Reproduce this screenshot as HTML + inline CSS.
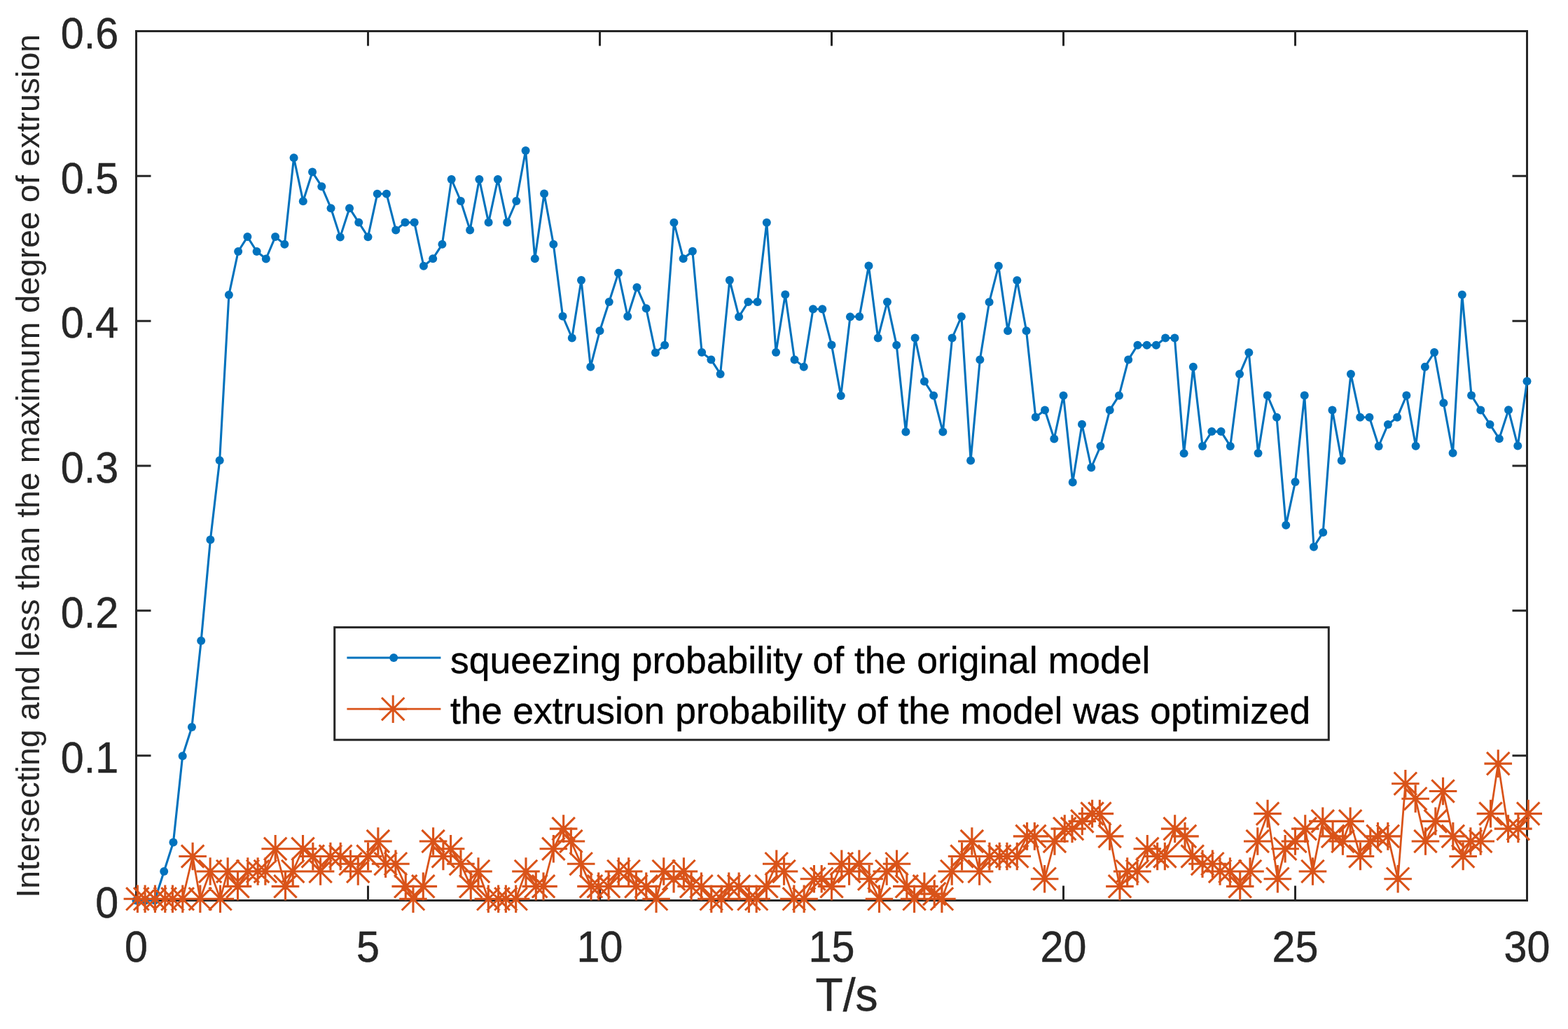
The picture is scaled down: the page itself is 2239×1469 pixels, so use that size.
<!DOCTYPE html>
<html><head><meta charset="utf-8"><title>Plot</title>
<style>html,body{margin:0;padding:0;background:#fff;overflow:hidden}svg{display:block}</style>
</head><body>
<svg width="2239" height="1469" viewBox="0 0 2239 1469">
<rect x="0" y="0" width="2239" height="1469" fill="#fff"/>
<g stroke="#262626" stroke-width="3.0" fill="none">
<rect x="194.5" y="44.5" width="1986.0" height="1241.0"/>
<path d="M194.5 1285.5V1264.5M194.5 44.5V65.5M525.5 1285.5V1264.5M525.5 44.5V65.5M856.5 1285.5V1264.5M856.5 44.5V65.5M1187.5 1285.5V1264.5M1187.5 44.5V65.5M1518.5 1285.5V1264.5M1518.5 44.5V65.5M1849.5 1285.5V1264.5M1849.5 44.5V65.5M2180.5 1285.5V1264.5M2180.5 44.5V65.5M194.5 1285.5H215.5M2180.5 1285.5H2159.5M194.5 1078.67H215.5M2180.5 1078.67H2159.5M194.5 871.83H215.5M2180.5 871.83H2159.5M194.5 665H215.5M2180.5 665H2159.5M194.5 458.17H215.5M2180.5 458.17H2159.5M194.5 251.33H215.5M2180.5 251.33H2159.5M194.5 44.5H215.5M2180.5 44.5H2159.5"/>
</g>
<polyline points="194.5,1285.5 207.74,1285.5 220.98,1285.5 234.22,1244 247.46,1202.6 260.7,1079.2 273.94,1038 287.18,914.8 300.42,770.5 313.66,657.2 326.9,420.9 340.14,359 353.38,338.1 366.62,359 379.86,369.5 393.1,338.1 406.34,348.8 419.58,225.2 432.82,287.3 446.06,245.6 459.3,266.2 472.54,297.2 485.78,338.4 499.02,297.2 512.26,317.6 525.5,338.2 538.74,276.8 551.98,276.8 565.22,328.4 578.46,317.6 591.7,317.6 604.94,379.8 618.18,369.2 631.42,348.8 644.66,256 657.9,287 671.14,328.4 684.38,256 697.62,317.6 710.86,256 724.1,317.6 737.34,287 750.58,215 763.82,369.2 777.06,276.5 790.3,348.8 803.54,451.5 816.78,482.4 830.02,400.1 843.26,523.8 856.5,472.2 869.74,431.1 882.98,389.7 896.22,451.8 909.46,410.3 922.7,440.3 935.94,503.4 949.18,492.7 962.42,317.8 975.66,369.3 988.9,358.8 1002.14,503.1 1015.38,513.4 1028.62,533.9 1041.86,400 1055.1,452.2 1068.34,431.1 1081.58,431.1 1094.82,317.8 1108.06,503.1 1121.3,420.6 1134.54,513.4 1147.78,523.7 1161.02,441.2 1174.26,441.3 1187.5,492.6 1200.74,565 1213.98,452.2 1227.22,451.9 1240.46,379.6 1253.7,482.5 1266.94,431.1 1280.18,492.7 1293.42,616.6 1306.66,482.5 1319.9,544.4 1333.14,564.8 1346.38,616.6 1359.62,482.5 1372.86,451.9 1386.1,657.4 1399.34,513.4 1412.58,431.3 1425.82,379.8 1439.06,472.2 1452.3,400.2 1465.54,472.2 1478.78,595.5 1492.02,585.4 1505.26,626.4 1518.5,564.7 1531.74,688.6 1544.98,605.8 1558.22,667.6 1571.46,637 1584.7,585.4 1597.94,564.7 1611.18,513.6 1624.42,492.7 1637.66,492.7 1650.9,492.7 1664.14,482.5 1677.38,482.5 1690.62,647.2 1703.86,523.8 1717.1,637 1730.34,616.1 1743.58,616.1 1756.82,636.9 1770.06,534.1 1783.3,503.3 1796.54,647.1 1809.78,564.6 1823.02,595.7 1836.26,749.8 1849.5,688.1 1862.74,564.6 1875.98,780.8 1889.22,760.1 1902.46,585.4 1915.7,657.4 1928.94,534.1 1942.18,595.8 1955.42,595.8 1968.66,637 1981.9,605.9 1995.14,595.8 2008.38,564.6 2021.62,636.8 2034.86,523.7 2048.1,503 2061.34,575.3 2074.58,646.8 2087.82,420.8 2101.06,564.6 2114.3,585.5 2127.54,605.9 2140.78,626.3 2154.02,585.2 2167.26,636.6 2180.5,544.3" fill="none" stroke="#0072BD" stroke-width="3.1" stroke-linejoin="round"/>
<g fill="#0072BD">
<circle cx="194.5" cy="1285.5" r="6"/>
<circle cx="207.74" cy="1285.5" r="6"/>
<circle cx="220.98" cy="1285.5" r="6"/>
<circle cx="234.22" cy="1244" r="6"/>
<circle cx="247.46" cy="1202.6" r="6"/>
<circle cx="260.7" cy="1079.2" r="6"/>
<circle cx="273.94" cy="1038" r="6"/>
<circle cx="287.18" cy="914.8" r="6"/>
<circle cx="300.42" cy="770.5" r="6"/>
<circle cx="313.66" cy="657.2" r="6"/>
<circle cx="326.9" cy="420.9" r="6"/>
<circle cx="340.14" cy="359" r="6"/>
<circle cx="353.38" cy="338.1" r="6"/>
<circle cx="366.62" cy="359" r="6"/>
<circle cx="379.86" cy="369.5" r="6"/>
<circle cx="393.1" cy="338.1" r="6"/>
<circle cx="406.34" cy="348.8" r="6"/>
<circle cx="419.58" cy="225.2" r="6"/>
<circle cx="432.82" cy="287.3" r="6"/>
<circle cx="446.06" cy="245.6" r="6"/>
<circle cx="459.3" cy="266.2" r="6"/>
<circle cx="472.54" cy="297.2" r="6"/>
<circle cx="485.78" cy="338.4" r="6"/>
<circle cx="499.02" cy="297.2" r="6"/>
<circle cx="512.26" cy="317.6" r="6"/>
<circle cx="525.5" cy="338.2" r="6"/>
<circle cx="538.74" cy="276.8" r="6"/>
<circle cx="551.98" cy="276.8" r="6"/>
<circle cx="565.22" cy="328.4" r="6"/>
<circle cx="578.46" cy="317.6" r="6"/>
<circle cx="591.7" cy="317.6" r="6"/>
<circle cx="604.94" cy="379.8" r="6"/>
<circle cx="618.18" cy="369.2" r="6"/>
<circle cx="631.42" cy="348.8" r="6"/>
<circle cx="644.66" cy="256" r="6"/>
<circle cx="657.9" cy="287" r="6"/>
<circle cx="671.14" cy="328.4" r="6"/>
<circle cx="684.38" cy="256" r="6"/>
<circle cx="697.62" cy="317.6" r="6"/>
<circle cx="710.86" cy="256" r="6"/>
<circle cx="724.1" cy="317.6" r="6"/>
<circle cx="737.34" cy="287" r="6"/>
<circle cx="750.58" cy="215" r="6"/>
<circle cx="763.82" cy="369.2" r="6"/>
<circle cx="777.06" cy="276.5" r="6"/>
<circle cx="790.3" cy="348.8" r="6"/>
<circle cx="803.54" cy="451.5" r="6"/>
<circle cx="816.78" cy="482.4" r="6"/>
<circle cx="830.02" cy="400.1" r="6"/>
<circle cx="843.26" cy="523.8" r="6"/>
<circle cx="856.5" cy="472.2" r="6"/>
<circle cx="869.74" cy="431.1" r="6"/>
<circle cx="882.98" cy="389.7" r="6"/>
<circle cx="896.22" cy="451.8" r="6"/>
<circle cx="909.46" cy="410.3" r="6"/>
<circle cx="922.7" cy="440.3" r="6"/>
<circle cx="935.94" cy="503.4" r="6"/>
<circle cx="949.18" cy="492.7" r="6"/>
<circle cx="962.42" cy="317.8" r="6"/>
<circle cx="975.66" cy="369.3" r="6"/>
<circle cx="988.9" cy="358.8" r="6"/>
<circle cx="1002.14" cy="503.1" r="6"/>
<circle cx="1015.38" cy="513.4" r="6"/>
<circle cx="1028.62" cy="533.9" r="6"/>
<circle cx="1041.86" cy="400" r="6"/>
<circle cx="1055.1" cy="452.2" r="6"/>
<circle cx="1068.34" cy="431.1" r="6"/>
<circle cx="1081.58" cy="431.1" r="6"/>
<circle cx="1094.82" cy="317.8" r="6"/>
<circle cx="1108.06" cy="503.1" r="6"/>
<circle cx="1121.3" cy="420.6" r="6"/>
<circle cx="1134.54" cy="513.4" r="6"/>
<circle cx="1147.78" cy="523.7" r="6"/>
<circle cx="1161.02" cy="441.2" r="6"/>
<circle cx="1174.26" cy="441.3" r="6"/>
<circle cx="1187.5" cy="492.6" r="6"/>
<circle cx="1200.74" cy="565" r="6"/>
<circle cx="1213.98" cy="452.2" r="6"/>
<circle cx="1227.22" cy="451.9" r="6"/>
<circle cx="1240.46" cy="379.6" r="6"/>
<circle cx="1253.7" cy="482.5" r="6"/>
<circle cx="1266.94" cy="431.1" r="6"/>
<circle cx="1280.18" cy="492.7" r="6"/>
<circle cx="1293.42" cy="616.6" r="6"/>
<circle cx="1306.66" cy="482.5" r="6"/>
<circle cx="1319.9" cy="544.4" r="6"/>
<circle cx="1333.14" cy="564.8" r="6"/>
<circle cx="1346.38" cy="616.6" r="6"/>
<circle cx="1359.62" cy="482.5" r="6"/>
<circle cx="1372.86" cy="451.9" r="6"/>
<circle cx="1386.1" cy="657.4" r="6"/>
<circle cx="1399.34" cy="513.4" r="6"/>
<circle cx="1412.58" cy="431.3" r="6"/>
<circle cx="1425.82" cy="379.8" r="6"/>
<circle cx="1439.06" cy="472.2" r="6"/>
<circle cx="1452.3" cy="400.2" r="6"/>
<circle cx="1465.54" cy="472.2" r="6"/>
<circle cx="1478.78" cy="595.5" r="6"/>
<circle cx="1492.02" cy="585.4" r="6"/>
<circle cx="1505.26" cy="626.4" r="6"/>
<circle cx="1518.5" cy="564.7" r="6"/>
<circle cx="1531.74" cy="688.6" r="6"/>
<circle cx="1544.98" cy="605.8" r="6"/>
<circle cx="1558.22" cy="667.6" r="6"/>
<circle cx="1571.46" cy="637" r="6"/>
<circle cx="1584.7" cy="585.4" r="6"/>
<circle cx="1597.94" cy="564.7" r="6"/>
<circle cx="1611.18" cy="513.6" r="6"/>
<circle cx="1624.42" cy="492.7" r="6"/>
<circle cx="1637.66" cy="492.7" r="6"/>
<circle cx="1650.9" cy="492.7" r="6"/>
<circle cx="1664.14" cy="482.5" r="6"/>
<circle cx="1677.38" cy="482.5" r="6"/>
<circle cx="1690.62" cy="647.2" r="6"/>
<circle cx="1703.86" cy="523.8" r="6"/>
<circle cx="1717.1" cy="637" r="6"/>
<circle cx="1730.34" cy="616.1" r="6"/>
<circle cx="1743.58" cy="616.1" r="6"/>
<circle cx="1756.82" cy="636.9" r="6"/>
<circle cx="1770.06" cy="534.1" r="6"/>
<circle cx="1783.3" cy="503.3" r="6"/>
<circle cx="1796.54" cy="647.1" r="6"/>
<circle cx="1809.78" cy="564.6" r="6"/>
<circle cx="1823.02" cy="595.7" r="6"/>
<circle cx="1836.26" cy="749.8" r="6"/>
<circle cx="1849.5" cy="688.1" r="6"/>
<circle cx="1862.74" cy="564.6" r="6"/>
<circle cx="1875.98" cy="780.8" r="6"/>
<circle cx="1889.22" cy="760.1" r="6"/>
<circle cx="1902.46" cy="585.4" r="6"/>
<circle cx="1915.7" cy="657.4" r="6"/>
<circle cx="1928.94" cy="534.1" r="6"/>
<circle cx="1942.18" cy="595.8" r="6"/>
<circle cx="1955.42" cy="595.8" r="6"/>
<circle cx="1968.66" cy="637" r="6"/>
<circle cx="1981.9" cy="605.9" r="6"/>
<circle cx="1995.14" cy="595.8" r="6"/>
<circle cx="2008.38" cy="564.6" r="6"/>
<circle cx="2021.62" cy="636.8" r="6"/>
<circle cx="2034.86" cy="523.7" r="6"/>
<circle cx="2048.1" cy="503" r="6"/>
<circle cx="2061.34" cy="575.3" r="6"/>
<circle cx="2074.58" cy="646.8" r="6"/>
<circle cx="2087.82" cy="420.8" r="6"/>
<circle cx="2101.06" cy="564.6" r="6"/>
<circle cx="2114.3" cy="585.5" r="6"/>
<circle cx="2127.54" cy="605.9" r="6"/>
<circle cx="2140.78" cy="626.3" r="6"/>
<circle cx="2154.02" cy="585.2" r="6"/>
<circle cx="2167.26" cy="636.6" r="6"/>
<circle cx="2180.5" cy="544.3" r="6"/>
</g>
<polyline points="196.40,1283.30 207.13,1283.30 221.44,1283.30 235.75,1283.30 246.48,1283.30 260.80,1283.30 275.11,1222.48 285.84,1283.30 300.15,1243.95 314.47,1283.30 325.20,1243.95 339.51,1265.41 353.82,1243.95 368.14,1243.95 378.87,1243.95 393.18,1211.74 407.49,1265.41 418.23,1243.95 432.54,1211.74 446.85,1222.48 457.59,1243.95 471.90,1222.48 486.21,1222.48 500.52,1233.21 511.26,1243.95 525.57,1222.48 539.88,1201.01 550.61,1233.21 564.93,1233.21 579.24,1265.41 589.97,1283.30 604.28,1265.41 618.60,1201.01 632.91,1222.48 643.64,1211.74 657.95,1233.21 672.27,1265.41 683.00,1243.95 697.31,1283.30 711.62,1283.30 722.36,1283.30 736.67,1283.30 750.98,1243.95 765.29,1265.41 776.03,1265.41 790.34,1211.74 804.65,1183.12 815.39,1201.01 829.70,1233.21 844.01,1265.41 854.74,1265.41 869.06,1265.41 883.37,1243.95 897.68,1243.95 908.41,1265.41 922.73,1265.41 937.04,1283.30 947.77,1243.95 962.08,1254.68 976.40,1243.95 987.13,1265.41 1001.44,1265.41 1015.75,1283.30 1030.07,1283.30 1040.80,1265.41 1055.11,1265.41 1069.42,1283.30 1080.16,1283.30 1094.47,1265.41 1108.78,1233.21 1119.52,1243.95 1133.83,1283.30 1148.14,1283.30 1162.45,1254.68 1173.19,1254.68 1187.50,1265.41 1201.81,1233.21 1212.54,1243.95 1226.86,1233.21 1241.17,1254.68 1255.48,1283.30 1266.21,1243.95 1280.53,1233.21 1294.84,1265.41 1305.57,1283.30 1319.88,1265.41 1334.20,1276.15 1344.93,1283.30 1359.24,1243.95 1373.55,1222.48 1387.87,1201.01 1398.60,1243.95 1412.91,1222.48 1427.22,1222.48 1437.96,1222.48 1452.27,1222.48 1466.58,1193.85 1477.32,1193.85 1491.63,1254.68 1505.94,1201.01 1520.25,1183.12 1530.99,1183.12 1545.30,1172.39 1559.61,1161.65 1570.34,1161.65 1584.66,1193.85 1598.97,1265.41 1609.70,1243.95 1624.01,1243.95 1638.33,1211.74 1652.64,1222.48 1663.37,1222.48 1677.68,1183.12 1692.00,1193.85 1702.73,1222.48 1717.04,1233.21 1731.35,1233.21 1742.09,1243.95 1756.40,1243.95 1770.71,1265.41 1785.02,1243.95 1795.76,1201.01 1810.07,1161.65 1824.38,1254.68 1835.12,1211.74 1849.43,1201.01 1863.74,1183.12 1874.47,1243.95 1888.79,1172.39 1903.10,1193.85 1917.41,1201.01 1928.14,1172.39 1942.46,1222.48 1956.77,1201.01 1967.50,1193.85 1981.81,1193.85 1996.13,1254.68 2006.86,1118.72 2021.17,1140.18 2035.48,1201.01 2049.80,1172.39 2060.53,1129.45 2074.84,1193.85 2089.15,1222.48 2099.89,1201.01 2114.20,1201.01 2128.51,1161.65 2139.25,1090.09 2153.56,1183.12 2167.87,1183.12 2182.18,1161.65" fill="none" stroke="#D95319" stroke-width="2.8" stroke-linejoin="round"/>
<path d="M176.6 1283.3H216.2M196.4 1263.5V1303.1M180.2 1267.1L212.6 1299.5M180.2 1299.5L212.6 1267.1M187.33 1283.3H226.93M207.13 1263.5V1303.1M190.93 1267.1L223.33 1299.5M190.93 1299.5L223.33 1267.1M201.64 1283.3H241.24M221.44 1263.5V1303.1M205.24 1267.1L237.64 1299.5M205.24 1299.5L237.64 1267.1M215.95 1283.3H255.55M235.75 1263.5V1303.1M219.55 1267.1L251.95 1299.5M219.55 1299.5L251.95 1267.1M226.68 1283.3H266.28M246.48 1263.5V1303.1M230.28 1267.1L262.68 1299.5M230.28 1299.5L262.68 1267.1M241 1283.3H280.6M260.8 1263.5V1303.1M244.6 1267.1L277 1299.5M244.6 1299.5L277 1267.1M255.31 1222.48H294.91M275.11 1202.68V1242.28M258.91 1206.28L291.31 1238.68M258.91 1238.68L291.31 1206.28M266.04 1283.3H305.64M285.84 1263.5V1303.1M269.64 1267.1L302.04 1299.5M269.64 1299.5L302.04 1267.1M280.35 1243.95H319.95M300.15 1224.15V1263.75M283.95 1227.75L316.35 1260.15M283.95 1260.15L316.35 1227.75M294.67 1283.3H334.27M314.47 1263.5V1303.1M298.27 1267.1L330.67 1299.5M298.27 1299.5L330.67 1267.1M305.4 1243.95H345M325.2 1224.15V1263.75M309 1227.75L341.4 1260.15M309 1260.15L341.4 1227.75M319.71 1265.41H359.31M339.51 1245.61V1285.21M323.31 1249.21L355.71 1281.61M323.31 1281.61L355.71 1249.21M334.02 1243.95H373.62M353.82 1224.15V1263.75M337.62 1227.75L370.02 1260.15M337.62 1260.15L370.02 1227.75M348.34 1243.95H387.94M368.14 1224.15V1263.75M351.94 1227.75L384.34 1260.15M351.94 1260.15L384.34 1227.75M359.07 1243.95H398.67M378.87 1224.15V1263.75M362.67 1227.75L395.07 1260.15M362.67 1260.15L395.07 1227.75M373.38 1211.74H412.98M393.18 1191.94V1231.54M376.98 1195.54L409.38 1227.94M376.98 1227.94L409.38 1195.54M387.69 1265.41H427.29M407.49 1245.61V1285.21M391.29 1249.21L423.69 1281.61M391.29 1281.61L423.69 1249.21M398.43 1243.95H438.03M418.23 1224.15V1263.75M402.03 1227.75L434.43 1260.15M402.03 1260.15L434.43 1227.75M412.74 1211.74H452.34M432.54 1191.94V1231.54M416.34 1195.54L448.74 1227.94M416.34 1227.94L448.74 1195.54M427.05 1222.48H466.65M446.85 1202.68V1242.28M430.65 1206.28L463.05 1238.68M430.65 1238.68L463.05 1206.28M437.79 1243.95H477.39M457.59 1224.15V1263.75M441.39 1227.75L473.79 1260.15M441.39 1260.15L473.79 1227.75M452.1 1222.48H491.7M471.9 1202.68V1242.28M455.7 1206.28L488.1 1238.68M455.7 1238.68L488.1 1206.28M466.41 1222.48H506.01M486.21 1202.68V1242.28M470.01 1206.28L502.41 1238.68M470.01 1238.68L502.41 1206.28M480.72 1233.21H520.32M500.52 1213.41V1253.01M484.32 1217.01L516.72 1249.41M484.32 1249.41L516.72 1217.01M491.46 1243.95H531.06M511.26 1224.15V1263.75M495.06 1227.75L527.46 1260.15M495.06 1260.15L527.46 1227.75M505.77 1222.48H545.37M525.57 1202.68V1242.28M509.37 1206.28L541.77 1238.68M509.37 1238.68L541.77 1206.28M520.08 1201.01H559.68M539.88 1181.21V1220.81M523.68 1184.81L556.08 1217.21M523.68 1217.21L556.08 1184.81M530.81 1233.21H570.41M550.61 1213.41V1253.01M534.41 1217.01L566.81 1249.41M534.41 1249.41L566.81 1217.01M545.13 1233.21H584.73M564.93 1213.41V1253.01M548.73 1217.01L581.13 1249.41M548.73 1249.41L581.13 1217.01M559.44 1265.41H599.04M579.24 1245.61V1285.21M563.04 1249.21L595.44 1281.61M563.04 1281.61L595.44 1249.21M570.17 1283.3H609.77M589.97 1263.5V1303.1M573.77 1267.1L606.17 1299.5M573.77 1299.5L606.17 1267.1M584.48 1265.41H624.08M604.28 1245.61V1285.21M588.08 1249.21L620.48 1281.61M588.08 1281.61L620.48 1249.21M598.8 1201.01H638.4M618.6 1181.21V1220.81M602.4 1184.81L634.8 1217.21M602.4 1217.21L634.8 1184.81M613.11 1222.48H652.71M632.91 1202.68V1242.28M616.71 1206.28L649.11 1238.68M616.71 1238.68L649.11 1206.28M623.84 1211.74H663.44M643.64 1191.94V1231.54M627.44 1195.54L659.84 1227.94M627.44 1227.94L659.84 1195.54M638.15 1233.21H677.75M657.95 1213.41V1253.01M641.75 1217.01L674.15 1249.41M641.75 1249.41L674.15 1217.01M652.47 1265.41H692.07M672.27 1245.61V1285.21M656.07 1249.21L688.47 1281.61M656.07 1281.61L688.47 1249.21M663.2 1243.95H702.8M683 1224.15V1263.75M666.8 1227.75L699.2 1260.15M666.8 1260.15L699.2 1227.75M677.51 1283.3H717.11M697.31 1263.5V1303.1M681.11 1267.1L713.51 1299.5M681.11 1299.5L713.51 1267.1M691.82 1283.3H731.42M711.62 1263.5V1303.1M695.42 1267.1L727.82 1299.5M695.42 1299.5L727.82 1267.1M702.56 1283.3H742.16M722.36 1263.5V1303.1M706.16 1267.1L738.56 1299.5M706.16 1299.5L738.56 1267.1M716.87 1283.3H756.47M736.67 1263.5V1303.1M720.47 1267.1L752.87 1299.5M720.47 1299.5L752.87 1267.1M731.18 1243.95H770.78M750.98 1224.15V1263.75M734.78 1227.75L767.18 1260.15M734.78 1260.15L767.18 1227.75M745.49 1265.41H785.09M765.29 1245.61V1285.21M749.09 1249.21L781.49 1281.61M749.09 1281.61L781.49 1249.21M756.23 1265.41H795.83M776.03 1245.61V1285.21M759.83 1249.21L792.23 1281.61M759.83 1281.61L792.23 1249.21M770.54 1211.74H810.14M790.34 1191.94V1231.54M774.14 1195.54L806.54 1227.94M774.14 1227.94L806.54 1195.54M784.85 1183.12H824.45M804.65 1163.32V1202.92M788.45 1166.92L820.85 1199.32M788.45 1199.32L820.85 1166.92M795.59 1201.01H835.19M815.39 1181.21V1220.81M799.19 1184.81L831.59 1217.21M799.19 1217.21L831.59 1184.81M809.9 1233.21H849.5M829.7 1213.41V1253.01M813.5 1217.01L845.9 1249.41M813.5 1249.41L845.9 1217.01M824.21 1265.41H863.81M844.01 1245.61V1285.21M827.81 1249.21L860.21 1281.61M827.81 1281.61L860.21 1249.21M834.94 1265.41H874.54M854.74 1245.61V1285.21M838.54 1249.21L870.94 1281.61M838.54 1281.61L870.94 1249.21M849.26 1265.41H888.86M869.06 1245.61V1285.21M852.86 1249.21L885.26 1281.61M852.86 1281.61L885.26 1249.21M863.57 1243.95H903.17M883.37 1224.15V1263.75M867.17 1227.75L899.57 1260.15M867.17 1260.15L899.57 1227.75M877.88 1243.95H917.48M897.68 1224.15V1263.75M881.48 1227.75L913.88 1260.15M881.48 1260.15L913.88 1227.75M888.61 1265.41H928.21M908.41 1245.61V1285.21M892.21 1249.21L924.61 1281.61M892.21 1281.61L924.61 1249.21M902.93 1265.41H942.53M922.73 1245.61V1285.21M906.53 1249.21L938.93 1281.61M906.53 1281.61L938.93 1249.21M917.24 1283.3H956.84M937.04 1263.5V1303.1M920.84 1267.1L953.24 1299.5M920.84 1299.5L953.24 1267.1M927.97 1243.95H967.57M947.77 1224.15V1263.75M931.57 1227.75L963.97 1260.15M931.57 1260.15L963.97 1227.75M942.28 1254.68H981.88M962.08 1234.88V1274.48M945.88 1238.48L978.28 1270.88M945.88 1270.88L978.28 1238.48M956.6 1243.95H996.2M976.4 1224.15V1263.75M960.2 1227.75L992.6 1260.15M960.2 1260.15L992.6 1227.75M967.33 1265.41H1006.93M987.13 1245.61V1285.21M970.93 1249.21L1003.33 1281.61M970.93 1281.61L1003.33 1249.21M981.64 1265.41H1021.24M1001.44 1245.61V1285.21M985.24 1249.21L1017.64 1281.61M985.24 1281.61L1017.64 1249.21M995.95 1283.3H1035.55M1015.75 1263.5V1303.1M999.55 1267.1L1031.95 1299.5M999.55 1299.5L1031.95 1267.1M1010.27 1283.3H1049.87M1030.07 1263.5V1303.1M1013.87 1267.1L1046.27 1299.5M1013.87 1299.5L1046.27 1267.1M1021 1265.41H1060.6M1040.8 1245.61V1285.21M1024.6 1249.21L1057 1281.61M1024.6 1281.61L1057 1249.21M1035.31 1265.41H1074.91M1055.11 1245.61V1285.21M1038.91 1249.21L1071.31 1281.61M1038.91 1281.61L1071.31 1249.21M1049.62 1283.3H1089.22M1069.42 1263.5V1303.1M1053.22 1267.1L1085.62 1299.5M1053.22 1299.5L1085.62 1267.1M1060.36 1283.3H1099.96M1080.16 1263.5V1303.1M1063.96 1267.1L1096.36 1299.5M1063.96 1299.5L1096.36 1267.1M1074.67 1265.41H1114.27M1094.47 1245.61V1285.21M1078.27 1249.21L1110.67 1281.61M1078.27 1281.61L1110.67 1249.21M1088.98 1233.21H1128.58M1108.78 1213.41V1253.01M1092.58 1217.01L1124.98 1249.41M1092.58 1249.41L1124.98 1217.01M1099.72 1243.95H1139.32M1119.52 1224.15V1263.75M1103.32 1227.75L1135.72 1260.15M1103.32 1260.15L1135.72 1227.75M1114.03 1283.3H1153.63M1133.83 1263.5V1303.1M1117.63 1267.1L1150.03 1299.5M1117.63 1299.5L1150.03 1267.1M1128.34 1283.3H1167.94M1148.14 1263.5V1303.1M1131.94 1267.1L1164.34 1299.5M1131.94 1299.5L1164.34 1267.1M1142.65 1254.68H1182.25M1162.45 1234.88V1274.48M1146.25 1238.48L1178.65 1270.88M1146.25 1270.88L1178.65 1238.48M1153.39 1254.68H1192.99M1173.19 1234.88V1274.48M1156.99 1238.48L1189.39 1270.88M1156.99 1270.88L1189.39 1238.48M1167.7 1265.41H1207.3M1187.5 1245.61V1285.21M1171.3 1249.21L1203.7 1281.61M1171.3 1281.61L1203.7 1249.21M1182.01 1233.21H1221.61M1201.81 1213.41V1253.01M1185.61 1217.01L1218.01 1249.41M1185.61 1249.41L1218.01 1217.01M1192.74 1243.95H1232.34M1212.54 1224.15V1263.75M1196.34 1227.75L1228.74 1260.15M1196.34 1260.15L1228.74 1227.75M1207.06 1233.21H1246.66M1226.86 1213.41V1253.01M1210.66 1217.01L1243.06 1249.41M1210.66 1249.41L1243.06 1217.01M1221.37 1254.68H1260.97M1241.17 1234.88V1274.48M1224.97 1238.48L1257.37 1270.88M1224.97 1270.88L1257.37 1238.48M1235.68 1283.3H1275.28M1255.48 1263.5V1303.1M1239.28 1267.1L1271.68 1299.5M1239.28 1299.5L1271.68 1267.1M1246.41 1243.95H1286.01M1266.21 1224.15V1263.75M1250.01 1227.75L1282.41 1260.15M1250.01 1260.15L1282.41 1227.75M1260.73 1233.21H1300.33M1280.53 1213.41V1253.01M1264.33 1217.01L1296.73 1249.41M1264.33 1249.41L1296.73 1217.01M1275.04 1265.41H1314.64M1294.84 1245.61V1285.21M1278.64 1249.21L1311.04 1281.61M1278.64 1281.61L1311.04 1249.21M1285.77 1283.3H1325.37M1305.57 1263.5V1303.1M1289.37 1267.1L1321.77 1299.5M1289.37 1299.5L1321.77 1267.1M1300.08 1265.41H1339.68M1319.88 1245.61V1285.21M1303.68 1249.21L1336.08 1281.61M1303.68 1281.61L1336.08 1249.21M1314.4 1276.15H1354M1334.2 1256.35V1295.95M1318 1259.95L1350.4 1292.35M1318 1292.35L1350.4 1259.95M1325.13 1283.3H1364.73M1344.93 1263.5V1303.1M1328.73 1267.1L1361.13 1299.5M1328.73 1299.5L1361.13 1267.1M1339.44 1243.95H1379.04M1359.24 1224.15V1263.75M1343.04 1227.75L1375.44 1260.15M1343.04 1260.15L1375.44 1227.75M1353.75 1222.48H1393.35M1373.55 1202.68V1242.28M1357.35 1206.28L1389.75 1238.68M1357.35 1238.68L1389.75 1206.28M1368.07 1201.01H1407.67M1387.87 1181.21V1220.81M1371.67 1184.81L1404.07 1217.21M1371.67 1217.21L1404.07 1184.81M1378.8 1243.95H1418.4M1398.6 1224.15V1263.75M1382.4 1227.75L1414.8 1260.15M1382.4 1260.15L1414.8 1227.75M1393.11 1222.48H1432.71M1412.91 1202.68V1242.28M1396.71 1206.28L1429.11 1238.68M1396.71 1238.68L1429.11 1206.28M1407.42 1222.48H1447.02M1427.22 1202.68V1242.28M1411.02 1206.28L1443.42 1238.68M1411.02 1238.68L1443.42 1206.28M1418.16 1222.48H1457.76M1437.96 1202.68V1242.28M1421.76 1206.28L1454.16 1238.68M1421.76 1238.68L1454.16 1206.28M1432.47 1222.48H1472.07M1452.27 1202.68V1242.28M1436.07 1206.28L1468.47 1238.68M1436.07 1238.68L1468.47 1206.28M1446.78 1193.85H1486.38M1466.58 1174.05V1213.65M1450.38 1177.65L1482.78 1210.05M1450.38 1210.05L1482.78 1177.65M1457.52 1193.85H1497.12M1477.32 1174.05V1213.65M1461.12 1177.65L1493.52 1210.05M1461.12 1210.05L1493.52 1177.65M1471.83 1254.68H1511.43M1491.63 1234.88V1274.48M1475.43 1238.48L1507.83 1270.88M1475.43 1270.88L1507.83 1238.48M1486.14 1201.01H1525.74M1505.94 1181.21V1220.81M1489.74 1184.81L1522.14 1217.21M1489.74 1217.21L1522.14 1184.81M1500.45 1183.12H1540.05M1520.25 1163.32V1202.92M1504.05 1166.92L1536.45 1199.32M1504.05 1199.32L1536.45 1166.92M1511.19 1183.12H1550.79M1530.99 1163.32V1202.92M1514.79 1166.92L1547.19 1199.32M1514.79 1199.32L1547.19 1166.92M1525.5 1172.39H1565.1M1545.3 1152.59V1192.19M1529.1 1156.19L1561.5 1188.59M1529.1 1188.59L1561.5 1156.19M1539.81 1161.65H1579.41M1559.61 1141.85V1181.45M1543.41 1145.45L1575.81 1177.85M1543.41 1177.85L1575.81 1145.45M1550.54 1161.65H1590.14M1570.34 1141.85V1181.45M1554.14 1145.45L1586.54 1177.85M1554.14 1177.85L1586.54 1145.45M1564.86 1193.85H1604.46M1584.66 1174.05V1213.65M1568.46 1177.65L1600.86 1210.05M1568.46 1210.05L1600.86 1177.65M1579.17 1265.41H1618.77M1598.97 1245.61V1285.21M1582.77 1249.21L1615.17 1281.61M1582.77 1281.61L1615.17 1249.21M1589.9 1243.95H1629.5M1609.7 1224.15V1263.75M1593.5 1227.75L1625.9 1260.15M1593.5 1260.15L1625.9 1227.75M1604.21 1243.95H1643.81M1624.01 1224.15V1263.75M1607.81 1227.75L1640.21 1260.15M1607.81 1260.15L1640.21 1227.75M1618.53 1211.74H1658.13M1638.33 1191.94V1231.54M1622.13 1195.54L1654.53 1227.94M1622.13 1227.94L1654.53 1195.54M1632.84 1222.48H1672.44M1652.64 1202.68V1242.28M1636.44 1206.28L1668.84 1238.68M1636.44 1238.68L1668.84 1206.28M1643.57 1222.48H1683.17M1663.37 1202.68V1242.28M1647.17 1206.28L1679.57 1238.68M1647.17 1238.68L1679.57 1206.28M1657.88 1183.12H1697.48M1677.68 1163.32V1202.92M1661.48 1166.92L1693.88 1199.32M1661.48 1199.32L1693.88 1166.92M1672.2 1193.85H1711.8M1692 1174.05V1213.65M1675.8 1177.65L1708.2 1210.05M1675.8 1210.05L1708.2 1177.65M1682.93 1222.48H1722.53M1702.73 1202.68V1242.28M1686.53 1206.28L1718.93 1238.68M1686.53 1238.68L1718.93 1206.28M1697.24 1233.21H1736.84M1717.04 1213.41V1253.01M1700.84 1217.01L1733.24 1249.41M1700.84 1249.41L1733.24 1217.01M1711.55 1233.21H1751.15M1731.35 1213.41V1253.01M1715.15 1217.01L1747.55 1249.41M1715.15 1249.41L1747.55 1217.01M1722.29 1243.95H1761.89M1742.09 1224.15V1263.75M1725.89 1227.75L1758.29 1260.15M1725.89 1260.15L1758.29 1227.75M1736.6 1243.95H1776.2M1756.4 1224.15V1263.75M1740.2 1227.75L1772.6 1260.15M1740.2 1260.15L1772.6 1227.75M1750.91 1265.41H1790.51M1770.71 1245.61V1285.21M1754.51 1249.21L1786.91 1281.61M1754.51 1281.61L1786.91 1249.21M1765.22 1243.95H1804.82M1785.02 1224.15V1263.75M1768.82 1227.75L1801.22 1260.15M1768.82 1260.15L1801.22 1227.75M1775.96 1201.01H1815.56M1795.76 1181.21V1220.81M1779.56 1184.81L1811.96 1217.21M1779.56 1217.21L1811.96 1184.81M1790.27 1161.65H1829.87M1810.07 1141.85V1181.45M1793.87 1145.45L1826.27 1177.85M1793.87 1177.85L1826.27 1145.45M1804.58 1254.68H1844.18M1824.38 1234.88V1274.48M1808.18 1238.48L1840.58 1270.88M1808.18 1270.88L1840.58 1238.48M1815.32 1211.74H1854.92M1835.12 1191.94V1231.54M1818.92 1195.54L1851.32 1227.94M1818.92 1227.94L1851.32 1195.54M1829.63 1201.01H1869.23M1849.43 1181.21V1220.81M1833.23 1184.81L1865.63 1217.21M1833.23 1217.21L1865.63 1184.81M1843.94 1183.12H1883.54M1863.74 1163.32V1202.92M1847.54 1166.92L1879.94 1199.32M1847.54 1199.32L1879.94 1166.92M1854.67 1243.95H1894.27M1874.47 1224.15V1263.75M1858.27 1227.75L1890.67 1260.15M1858.27 1260.15L1890.67 1227.75M1868.99 1172.39H1908.59M1888.79 1152.59V1192.19M1872.59 1156.19L1904.99 1188.59M1872.59 1188.59L1904.99 1156.19M1883.3 1193.85H1922.9M1903.1 1174.05V1213.65M1886.9 1177.65L1919.3 1210.05M1886.9 1210.05L1919.3 1177.65M1897.61 1201.01H1937.21M1917.41 1181.21V1220.81M1901.21 1184.81L1933.61 1217.21M1901.21 1217.21L1933.61 1184.81M1908.34 1172.39H1947.94M1928.14 1152.59V1192.19M1911.94 1156.19L1944.34 1188.59M1911.94 1188.59L1944.34 1156.19M1922.66 1222.48H1962.26M1942.46 1202.68V1242.28M1926.26 1206.28L1958.66 1238.68M1926.26 1238.68L1958.66 1206.28M1936.97 1201.01H1976.57M1956.77 1181.21V1220.81M1940.57 1184.81L1972.97 1217.21M1940.57 1217.21L1972.97 1184.81M1947.7 1193.85H1987.3M1967.5 1174.05V1213.65M1951.3 1177.65L1983.7 1210.05M1951.3 1210.05L1983.7 1177.65M1962.01 1193.85H2001.61M1981.81 1174.05V1213.65M1965.61 1177.65L1998.01 1210.05M1965.61 1210.05L1998.01 1177.65M1976.33 1254.68H2015.93M1996.13 1234.88V1274.48M1979.93 1238.48L2012.33 1270.88M1979.93 1270.88L2012.33 1238.48M1987.06 1118.72H2026.66M2006.86 1098.92V1138.52M1990.66 1102.52L2023.06 1134.92M1990.66 1134.92L2023.06 1102.52M2001.37 1140.18H2040.97M2021.17 1120.38V1159.98M2004.97 1123.98L2037.37 1156.38M2004.97 1156.38L2037.37 1123.98M2015.68 1201.01H2055.28M2035.48 1181.21V1220.81M2019.28 1184.81L2051.68 1217.21M2019.28 1217.21L2051.68 1184.81M2030 1172.39H2069.6M2049.8 1152.59V1192.19M2033.6 1156.19L2066 1188.59M2033.6 1188.59L2066 1156.19M2040.73 1129.45H2080.33M2060.53 1109.65V1149.25M2044.33 1113.25L2076.73 1145.65M2044.33 1145.65L2076.73 1113.25M2055.04 1193.85H2094.64M2074.84 1174.05V1213.65M2058.64 1177.65L2091.04 1210.05M2058.64 1210.05L2091.04 1177.65M2069.35 1222.48H2108.95M2089.15 1202.68V1242.28M2072.95 1206.28L2105.35 1238.68M2072.95 1238.68L2105.35 1206.28M2080.09 1201.01H2119.69M2099.89 1181.21V1220.81M2083.69 1184.81L2116.09 1217.21M2083.69 1217.21L2116.09 1184.81M2094.4 1201.01H2134M2114.2 1181.21V1220.81M2098 1184.81L2130.4 1217.21M2098 1217.21L2130.4 1184.81M2108.71 1161.65H2148.31M2128.51 1141.85V1181.45M2112.31 1145.45L2144.71 1177.85M2112.31 1177.85L2144.71 1145.45M2119.45 1090.09H2159.05M2139.25 1070.29V1109.89M2123.05 1073.89L2155.45 1106.29M2123.05 1106.29L2155.45 1073.89M2133.76 1183.12H2173.36M2153.56 1163.32V1202.92M2137.36 1166.92L2169.76 1199.32M2137.36 1199.32L2169.76 1166.92M2148.07 1183.12H2187.67M2167.87 1163.32V1202.92M2151.67 1166.92L2184.07 1199.32M2151.67 1199.32L2184.07 1166.92M2162.38 1161.65H2201.98M2182.18 1141.85V1181.45M2165.98 1145.45L2198.38 1177.85M2165.98 1177.85L2198.38 1145.45" fill="none" stroke="#D95319" stroke-width="3.1"/>
<g font-family="'Liberation Sans', Arial, Helvetica, sans-serif" font-size="63" fill="#262626" stroke="#262626" stroke-width="0.5" text-anchor="end" transform="scale(0.94 1)">
<text x="179.89" y="1309.7">0</text>
<text x="179.89" y="1102.87">0.1</text>
<text x="179.89" y="896.03">0.2</text>
<text x="179.89" y="689.2">0.3</text>
<text x="179.89" y="482.37">0.4</text>
<text x="179.89" y="275.53">0.5</text>
<text x="179.89" y="68.7">0.6</text>
</g>
<g font-family="'Liberation Sans', Arial, Helvetica, sans-serif" font-size="63" fill="#262626" stroke="#262626" stroke-width="0.5" text-anchor="middle" transform="scale(0.94 1)">
<text x="206.91" y="1373.1">0</text>
<text x="559.04" y="1373.1">5</text>
<text x="911.17" y="1373.1">10</text>
<text x="1263.3" y="1373.1">15</text>
<text x="1615.43" y="1373.1">20</text>
<text x="1967.55" y="1373.1">25</text>
<text x="2319.68" y="1373.1">30</text>
</g>
<text font-family="'Liberation Sans', Arial, Helvetica, sans-serif" font-size="67.3" fill="#262626" stroke="#262626" stroke-width="0.5" transform="scale(0.952 1)" x="1223.32" y="1443.5">T/s</text>
<text font-family="'Liberation Sans', Arial, Helvetica, sans-serif" font-size="45.6" fill="#262626" text-anchor="middle" transform="translate(56,665.3) rotate(-90) scale(1.02 1)">Intersecting and less than the maximum degree of extrusion</text>
<rect x="477.7" y="895.6" width="1419.6" height="160.6" fill="#fff" stroke="#262626" stroke-width="3.0"/>
<line x1="495.4" y1="939" x2="629.4" y2="939" stroke="#0072BD" stroke-width="3.1"/>
<circle cx="562.2" cy="939" r="6" fill="#0072BD"/>
<line x1="495.4" y1="1012.2" x2="629.4" y2="1012.2" stroke="#D95319" stroke-width="2.8"/>
<path d="M541.4 1012.2H581M561.2 992.4V1032M545 996L577.4 1028.4M545 1028.4L577.4 996" fill="none" stroke="#D95319" stroke-width="3"/>
<g font-family="'Liberation Sans', Arial, Helvetica, sans-serif" font-size="53.5" fill="#000" stroke="#000" stroke-width="0.4">
<text x="643" y="960.8">squeezing probability of the original model</text>
<text x="643" y="1033">the extrusion probability of the model was optimized</text>
</g>
</svg>
</body></html>
